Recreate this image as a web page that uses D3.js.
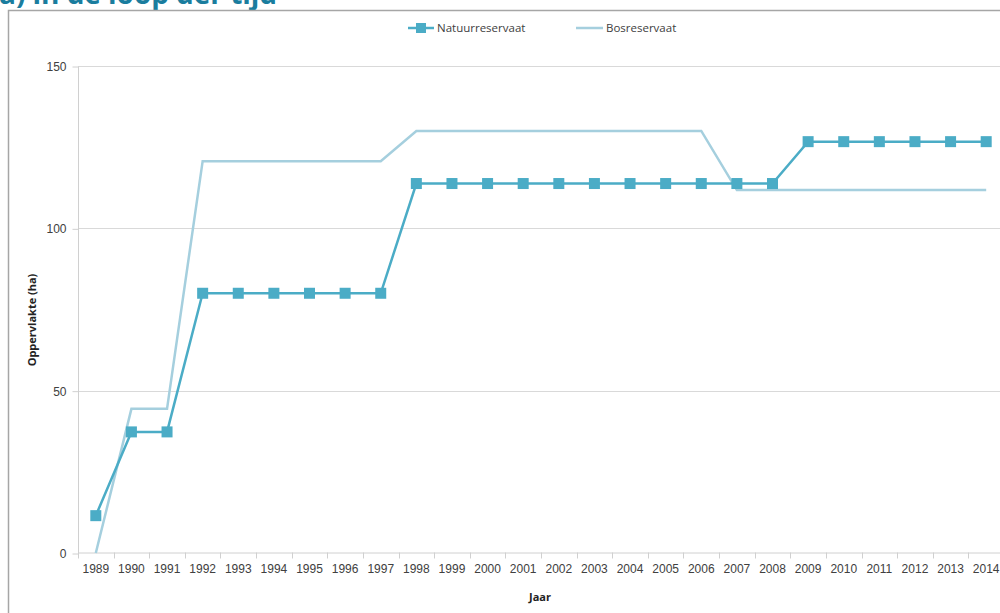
<!DOCTYPE html>
<html>
<head>
<meta charset="utf-8">
<script src="https://cdn.jsdelivr.net/npm/d3@7"></script>
<style>
  body { margin: 0; background: #fff; }
  svg { display: block; font-family: "Open Sans", "Noto Sans", sans-serif; }
</style>
</head>
<body>
<svg id="viz" width="1000" height="613"></svg>
<script>
var years = ["1989","1990","1991","1992","1993","1994","1995","1996","1997","1998","1999","2000","2001",
             "2002","2003","2004","2005","2006","2007","2008","2009","2010","2011","2012","2013","2014"];
var natuurreservaat = [11.5, 37.3, 37.3, 80, 80, 80, 80, 80, 80, 113.8, 113.8, 113.8, 113.8,
                       113.8, 113.8, 113.8, 113.8, 113.8, 113.8, 113.8, 126.7, 126.7, 126.7, 126.7, 126.7, 126.7];
var bosreservaat = [0, 44.4, 44.4, 120.7, 120.7, 120.7, 120.7, 120.7, 120.7, 130, 130, 130, 130,
                    130, 130, 130, 130, 130, 111.8, 111.8, 111.8, 111.8, 111.8, 111.8, 111.8, 111.8];
var yTicks = [0, 50, 100, 150];

var svg = d3.select("#viz");
var natColor = "#4bacc6";
var bosColor = "#a5cfde";

// title, cut off at the top like the source image
svg.append("text")
  .attr("x", -1).attr("y", 4)
  .attr("textLength", 278)
  .style("font-size", "28px").style("font-weight", "bold")
  .style("fill", "#1a7d9e")
  .text("a) in de loop der tijd");

// chart frame
svg.append("path")
  .attr("d", "M8.5,620 V10.5 H1010")
  .style("fill", "none").style("stroke", "#a6a6a6").style("stroke-width", 1.5);

var x = d3.scaleBand().domain(years).range([78, 1004]);
var y = d3.scaleLinear().domain([0, 150]).range([553, 66]);

// gridlines
svg.selectAll("line.grid")
  .data(yTicks.filter(function(d) { return d > 0; }))
  .enter()
  .append("line")
  .classed("grid", true)
  .attr("x1", 78).attr("x2", 1004)
  .attr("y1", function(d) { return Math.round(y(d)) + 0.5; })
  .attr("y2", function(d) { return Math.round(y(d)) + 0.5; })
  .style("stroke", "#d9d9d9");

// y axis
var yAxis = svg.append("g")
  .attr("transform", "translate(78.5,0.5)")
  .call(d3.axisLeft(y).tickValues(yTicks).tickSize(6).tickPadding(6));
yAxis.select(".domain").style("stroke", "#d0d0d0").attr("d", "M0," + y(150) + "V" + y(0));
yAxis.selectAll(".tick line").style("stroke", "#d0d0d0");
yAxis.selectAll(".tick text").style("font-size", "12px").style("fill", "#404040").style("font-family", "inherit");

// x axis
var xAxis = svg.append("g")
  .attr("transform", "translate(0," + (y(0) - 0.5) + ")")
  .call(d3.axisBottom(x).tickSize(0).tickPadding(12));
xAxis.select(".domain").style("stroke", "#d0d0d0");
xAxis.selectAll(".tick text").style("font-size", "12px").style("fill", "#404040").style("font-family", "inherit");
xAxis.selectAll("line.sep")
  .data(years)
  .enter()
  .append("line")
  .classed("sep", true)
  .attr("x1", function(d) { return Math.round(x(d)) + 0.5; })
  .attr("x2", function(d) { return Math.round(x(d)) + 0.5; })
  .attr("y1", 0).attr("y2", 6)
  .style("stroke", "#d0d0d0");

// axis titles
svg.append("text")
  .attr("transform", "translate(36,320) rotate(-90)")
  .attr("text-anchor", "middle")
  .style("font-size", "11px").style("font-weight", "bold").style("fill", "#222")
  .text("Oppervlakte (ha)");
svg.append("text")
  .attr("x", 540).attr("y", 601)
  .attr("text-anchor", "middle")
  .style("font-size", "11px").style("font-weight", "bold").style("fill", "#222")
  .text("Jaar");

var cx = function(d, i) { return x(years[i]) + x.bandwidth() / 2; };

// Bosreservaat
svg.append("path")
  .datum(bosreservaat)
  .attr("d", d3.line().x(cx).y(function(d) { return y(d); }))
  .style("fill", "none").style("stroke", bosColor).style("stroke-width", 2.5);

// Natuurreservaat
svg.append("path")
  .datum(natuurreservaat)
  .attr("d", d3.line().x(cx).y(function(d) { return y(d); }))
  .style("fill", "none").style("stroke", natColor).style("stroke-width", 2.5);

svg.selectAll("rect.marker")
  .data(natuurreservaat)
  .enter()
  .append("rect")
  .classed("marker", true)
  .attr("x", function(d, i) { return cx(d, i) - 5.5; })
  .attr("y", function(d) { return y(d) - 5.5; })
  .attr("width", 11).attr("height", 11)
  .style("fill", natColor);

// legend
var legend = svg.append("g").attr("transform", "translate(0,28)");
legend.append("line").attr("x1", 408).attr("x2", 434).attr("y1", 0).attr("y2", 0)
  .style("stroke", natColor).style("stroke-width", 2.5);
legend.append("rect").attr("x", 416).attr("y", -5).attr("width", 10).attr("height", 10).style("fill", natColor);
legend.append("text").attr("x", 437).attr("y", 4).style("font-size", "11.5px").style("fill", "#404040")
  .text("Natuurreservaat");
legend.append("line").attr("x1", 576).attr("x2", 603).attr("y1", 0).attr("y2", 0)
  .style("stroke", bosColor).style("stroke-width", 2.5);
legend.append("text").attr("x", 606).attr("y", 4).style("font-size", "11.5px").style("fill", "#404040")
  .text("Bosreservaat");
</script>
</body>
</html>
